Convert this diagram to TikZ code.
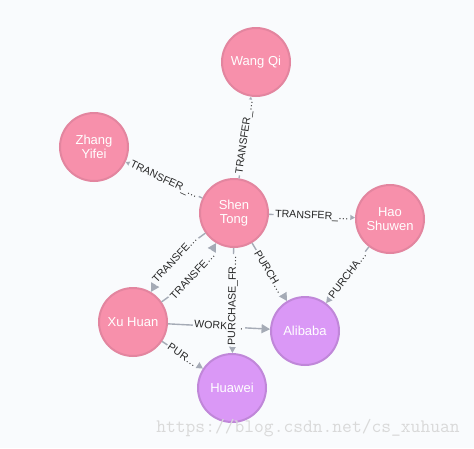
\documentclass[tikz,border=0pt]{standalone}
\usepackage{fontspec}
\setmainfont{Liberation Sans}
\usetikzlibrary{arrows.meta}
\definecolor{bgcol}{HTML}{F9FBFD}
\definecolor{pinkfill}{HTML}{F790AB}
\definecolor{pinkdraw}{HTML}{E3859F}
\definecolor{purplefill}{HTML}{DA98F6}
\definecolor{purpledraw}{HTML}{C087D9}
\definecolor{relgray}{HTML}{A5ABB6}

\begin{document}
\begin{tikzpicture}[
    x=1pt, y=-1pt,
    entity/.style={circle, draw=#1draw, fill=#1fill, line width=2pt, minimum size=68pt, inner sep=0pt, align=center, text=white, font=\fontsize{13}{14}\selectfont},
    rel/.style={-{Triangle[length=8.5pt, width=9pt]}, line width=1.4pt, draw=relgray},
    rlabel/.style={sloped, fill=bgcol, inner sep=1.5pt, text=black!85, font=\fontsize{10.6}{11}\selectfont},
]
\fill[bgcol] (0,0) rectangle (474,448);
\useasboundingbox (0,0) rectangle (474,448);

\node[entity=pink] (wang) at (256,62) {Wang Qi};
\node[entity=pink] (zhang) at (94,147) {Zhang\\Yifei};
\node[entity=pink] (shen) at (234,213) {Shen\\Tong};
\node[entity=pink] (hao) at (390,219) {Hao\\Shuwen};
\node[entity=pink] (xu) at (133,322) {Xu Huan};
\node[entity=purple] (alibaba) at (305,331) {Alibaba};
\node[entity=purple] (huawei) at (232,388) {Huawei};

\draw[rel] (shen) -- node[rlabel] {TRANSFER\_…} (wang);
\draw[rel] (shen) -- node[rlabel] {TRANSFER\_…} (zhang);
\draw[rel] (shen) -- node[rlabel] {TRANSFER\_…} (hao);
\draw[rel] (shen) to[bend right=12] node[rlabel] {TRANSFE…} (xu);
\draw[rel] (xu) to[bend right=12] node[rlabel] {TRANSFE…} (shen);
\draw[rel] (shen) -- node[rlabel] {PURCH…} (alibaba);
\draw[rel] (hao) -- node[rlabel] {PURCHA…} (alibaba);
\draw[rel] (xu) -- node[rlabel] {WORK\_…} (alibaba);
\draw[rel] (xu) -- node[rlabel] {PUR…} (huawei);
\draw[rel] (shen) -- node[rlabel] {PURCHASE\_FR…} (huawei);

\node[text=black!15, font=\fontsize{19}{19}\selectfont\ttfamily] (mark) at (308,428) {https://blog.csdn.net/cs\_xuhuan};
\end{tikzpicture}
\end{document}
